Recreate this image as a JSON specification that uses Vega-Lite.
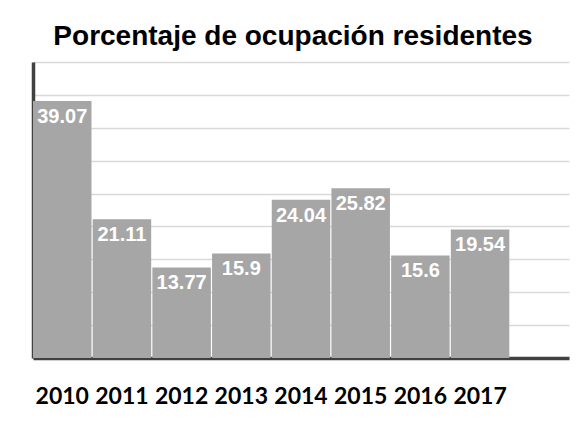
{
  "$schema": "https://vega.github.io/schema/vega-lite/v6.json",
  "width": 536,
  "height": 296,
  "autosize": {"type": "none"},
  "padding": {"left": 33, "top": 62, "right": 17, "bottom": 64},
  "background": "white",
  "title": {
    "text": "Porcentaje de ocupación residentes",
    "font": "Liberation Sans",
    "fontSize": 28,
    "fontWeight": "bold",
    "color": "#000000",
    "anchor": "middle",
    "frame": "group",
    "dx": -8,
    "offset": 11
  },
  "data": {
    "values": [
      {"year": "2010", "value": 39.07},
      {"year": "2011", "value": 21.11},
      {"year": "2012", "value": 13.77},
      {"year": "2013", "value": 15.9},
      {"year": "2014", "value": 24.04},
      {"year": "2015", "value": 25.82},
      {"year": "2016", "value": 15.6},
      {"year": "2017", "value": 19.54}
    ]
  },
  "encoding": {
    "x": {
      "field": "year",
      "type": "ordinal",
      "scale": {
        "domain": ["2010", "2011", "2012", "2013", "2014", "2015", "2016", "2017", " "],
        "paddingInner": 0.02,
        "paddingOuter": 0
      },
      "axis": {
        "title": null,
        "labelAngle": 0,
        "ticks": false,
        "labelPadding": 27,
        "labelFont": "Lato",
        "labelFontWeight": "bold",
        "labelFontSize": 23,
        "labelColor": "#000000",
        "domainColor": "#404040",
        "domainWidth": 3.5,
        "grid": false
      }
    },
    "y": {
      "field": "value",
      "type": "quantitative",
      "scale": {"domain": [0, 45], "nice": false},
      "axis": {
        "title": null,
        "labels": false,
        "ticks": false,
        "values": [0, 5, 10, 15, 20, 25, 30, 35, 40, 45],
        "grid": true,
        "gridColor": "#d9d9d9",
        "gridWidth": 1.5,
        "domainColor": "#404040",
        "domainWidth": 3.5
      }
    }
  },
  "layer": [
    {
      "mark": {"type": "bar", "color": "#a6a6a6"}
    },
    {
      "mark": {
        "type": "text",
        "color": "#ffffff",
        "font": "Liberation Sans",
        "fontWeight": "bold",
        "fontSize": 20,
        "align": "center",
        "baseline": "alphabetic",
        "dy": 22
      },
      "encoding": {"text": {"field": "value", "type": "quantitative"}}
    }
  ],
  "config": {"view": {"stroke": null}}
}
